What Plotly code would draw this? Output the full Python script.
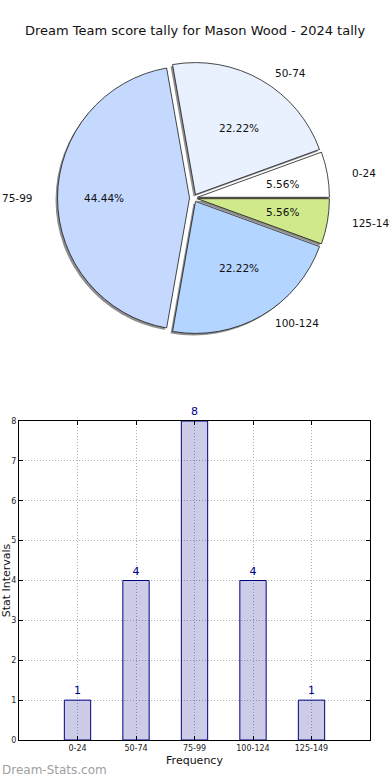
import math
import plotly.graph_objects as go

# ---------------- data ----------------
categories = ["0-24", "50-74", "75-99", "100-124", "125-149"]
counts = [1, 4, 8, 4, 1]
pie_colors = ["#ffffff", "#e9f1ff", "#c5d9ff", "#b4d5ff", "#cfe98b"]
title_text = "Dream Team score tally for Mason Wood - 2024 tally"

# ---------------- geometry (pixels) ----------------
W, H = 390, 780
pie_cx, pie_cy = 193.5, 198.0
pie_r = 132.0
pull = 0.03
box = 2 * pie_r * (1 + pull)

def px(x):
    return x / W

def py(y):
    return 1 - y / H

pie_domain_x = [px(pie_cx - box / 2), px(pie_cx + box / 2)]
pie_domain_y = [py(pie_cy + box / 2), py(pie_cy - box / 2)]
sh_dx, sh_dy = -2.0, 2.0
shadow_domain_x = [px(pie_cx + sh_dx - box / 2), px(pie_cx + sh_dx + box / 2)]
shadow_domain_y = [py(pie_cy + sh_dy + box / 2), py(pie_cy + sh_dy - box / 2)]

total = sum(counts)
pulls = [pull] * len(counts)

fig = go.Figure()

# shadow
fig.add_trace(go.Pie(
    labels=categories, values=counts, sort=False, direction="counterclockwise",
    rotation=90 - 360 * counts[0] / total, pull=pulls,
    marker=dict(colors=["#8f8f8f"] * len(counts), line=dict(width=0)),
    textinfo="none", hoverinfo="skip", showlegend=False,
    domain=dict(x=shadow_domain_x, y=shadow_domain_y),
))
# main pie
fig.add_trace(go.Pie(
    labels=categories, values=counts, sort=False, direction="counterclockwise",
    rotation=90 - 360 * counts[0] / total, pull=pulls,
    marker=dict(colors=pie_colors, line=dict(color="#1a1a1a", width=0.8)),
    textinfo="none", showlegend=False,
    domain=dict(x=pie_domain_x, y=pie_domain_y),
))

# labels and percentages (matplotlib-like placement)
annotations = []
lab_rx, lab_ry = 158.5, 144.0
pct_rx, pct_ry = 90.0, 81.0
start = 0.0
for cat, v in zip(categories, counts):
    span = 360.0 * v / total
    mid = math.radians(start + span / 2)
    c, s = math.cos(mid), math.sin(mid)
    lx = pie_cx + lab_rx * c
    ly = pie_cy - lab_ry * s
    annotations.append(dict(
        x=px(lx), y=py(ly), xref="paper", yref="paper", text=cat, showarrow=False,
        xanchor="left" if c > 0 else "right", yanchor="middle",
        font=dict(size=10.5, color="#111111", family="DejaVu Sans"),
    ))
    tx = pie_cx + pct_rx * c
    ty = pie_cy - pct_ry * s
    annotations.append(dict(
        x=px(tx), y=py(ty), xref="paper", yref="paper",
        text="%.2f%%" % (100.0 * v / total), showarrow=False,
        xanchor="center", yanchor="middle",
        font=dict(size=10.5, color="#111111", family="DejaVu Sans"),
    ))
    start += span

# watermark
annotations.append(dict(
    x=px(0), y=py(770), xref="paper", yref="paper", text="Dream-Stats.com",
    showarrow=False, xanchor="left", yanchor="middle",
    font=dict(size=12, color="#a0a0a0", family="DejaVu Sans"),
))

# ---------------- bar chart ----------------
fig.add_trace(go.Bar(
    x=categories, y=counts, width=0.45,
    marker=dict(color="rgba(0,0,139,0.2)", line=dict(color="#000080", width=1)),
    text=[str(v) for v in counts], textposition="outside",
    textfont=dict(size=11, color="#00008b", family="DejaVu Sans"),
    cliponaxis=False, showlegend=False, xaxis="x", yaxis="y",
))

bar_x = [px(19), px(370)]
bar_y = [py(740), py(421)]

fig.update_layout(
    width=W, height=H,
    margin=dict(l=0, r=0, t=0, b=0),
    paper_bgcolor="white", plot_bgcolor="white",
    font=dict(family="DejaVu Sans", color="#111111"),
    title=dict(text=title_text, x=0.5, xanchor="center", y=py(30), yanchor="middle",
               font=dict(size=13, color="#111111", family="DejaVu Sans")),
    annotations=annotations,
    xaxis=dict(
        domain=bar_x, type="category", range=[-1, 5],
        showline=True, linecolor="black", linewidth=1, mirror="ticks",
        ticks="inside", ticklen=4, tickcolor="black",
        showgrid=True, gridcolor="#b0b0b0", griddash="1px,2px", gridwidth=1,
        tickfont=dict(size=8, color="#222222"),
        title=dict(text="Frequency", font=dict(size=11, color="#111111"), standoff=4),
        zeroline=False, automargin=False,
    ),
    yaxis=dict(
        domain=bar_y, range=[0, 8], dtick=1,
        showline=True, linecolor="black", linewidth=1, mirror="ticks",
        ticks="inside", ticklen=4, tickcolor="black",
        showgrid=True, gridcolor="#b0b0b0", griddash="1px,2px", gridwidth=1,
        tickfont=dict(size=8, color="#222222"),
        title=dict(text="Stat Intervals", font=dict(size=11, color="#111111"), standoff=1),
        zeroline=False, automargin=False,
    ),
    bargap=0.5,
)

fig.write_html("out.html", config={"displayModeBar": False},
               post_script="document.body.style.margin='0';")
